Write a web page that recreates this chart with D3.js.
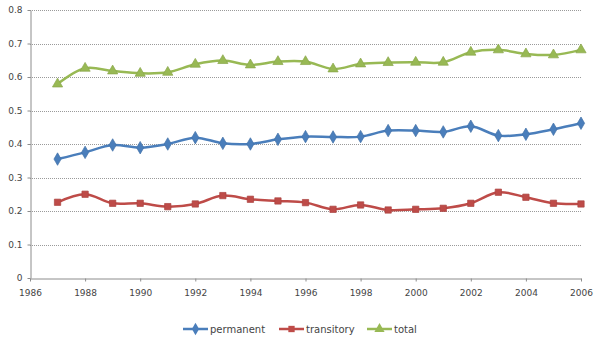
<!DOCTYPE html>
<html lang="en-US">
<head>
    <meta charset="UTF-8" />
    <title>permanent / transitory / total</title>
    <style>
        body { margin: 0; background: #fff; }
        text { font-family: "DejaVu Sans", sans-serif; fill: #444; }
        .grid line { stroke: #9a9a9a; stroke-width: 1; stroke-dasharray: 1 1; }
        .axis path, .axis line { stroke: #8c8c8c; }
    </style>
    <script src="https://d3js.org/d3.v7.min.js"></script>
</head>
<body>
    <div id="container"></div>
    <script>
        const years = d3.range(1987, 2007);
        const permanent = [0.355, 0.375, 0.397, 0.389, 0.400, 0.419, 0.402, 0.400, 0.414, 0.422,
            0.421, 0.422, 0.440, 0.440, 0.436, 0.453, 0.425, 0.429, 0.444, 0.462];
        const transitory = [0.226, 0.250, 0.223, 0.223, 0.213, 0.221, 0.246, 0.235, 0.230, 0.225,
            0.205, 0.218, 0.203, 0.205, 0.208, 0.223, 0.256, 0.241, 0.223, 0.221];
        const total = [0.579, 0.626, 0.618, 0.611, 0.614, 0.638, 0.649, 0.636, 0.646, 0.646,
            0.624, 0.639, 0.643, 0.644, 0.644, 0.674, 0.681, 0.669, 0.666, 0.681];
        const xTicks = d3.range(1986, 2007, 2);
        const yTicks = d3.range(0, 0.81, 0.1);

        const series = [
            { name: "permanent", values: permanent, color: "#4a7ebb", shape: d3.symbolDiamond, size: 45 },
            { name: "transitory", values: transitory, color: "#be4b48", shape: d3.symbolSquare, size: 40 },
            { name: "total", values: total, color: "#98b954", shape: d3.symbolTriangle, size: 45 }
        ];

        const width = 600, height = 343;
        const margin = { left: 30, right: 19, top: 10, bottom: 65 };

        const svg = d3.select("#container").append("svg")
            .attr("width", width)
            .attr("height", height);

        const x = d3.scaleLinear().domain([1986, 2006]).range([margin.left, width - margin.right]);
        const y = d3.scaleLinear().domain([0, 0.8]).range([height - margin.bottom, margin.top]);

        // horizontal gridlines
        svg.append("g")
            .attr("class", "grid")
            .selectAll("line")
            .data(yTicks.slice(1))
            .join("line")
            .attr("x1", margin.left)
            .attr("x2", width - margin.right)
            .attr("y1", d => Math.round(y(d)) + 0.5)
            .attr("y2", d => Math.round(y(d)) + 0.5);

        const yAxis = svg.append("g")
            .attr("class", "axis")
            .attr("transform", `translate(${margin.left + 0.5},0)`)
            .call(d3.axisLeft(y).tickValues(yTicks).tickSize(3).tickSizeOuter(0)
                .tickFormat(d => d === 0 ? "0" : d3.format(".1f")(d)));
        yAxis.selectAll("text").attr("font-size", 9).attr("dx", "-2px");

        const xAxis = svg.append("g")
            .attr("class", "axis")
            .attr("transform", `translate(0,${Math.round(y(0)) + 0.5})`)
            .call(d3.axisBottom(x).tickValues(xTicks).tickSize(3).tickSizeOuter(0).tickFormat(d3.format("d")));
        xAxis.selectAll("text").attr("font-size", 9).attr("dy", "1.3em");

        const line = d3.line()
            .x((d, i) => x(years[i]))
            .y(d => y(d))
            .curve(d3.curveCatmullRom.alpha(0.5));

        series.forEach(s => {
            svg.append("path")
                .datum(s.values)
                .attr("fill", "none")
                .attr("stroke", s.color)
                .attr("stroke-width", 2.5)
                .attr("d", line);

            svg.append("g")
                .selectAll("path")
                .data(s.values)
                .join("path")
                .attr("transform", (d, i) => `translate(${x(years[i])},${y(d)})`)
                .attr("d", d3.symbol().type(s.shape).size(s.size))
                .attr("fill", s.color)
                .attr("stroke", d3.color(s.color).darker(0.3))
                .attr("stroke-width", 0.7);
        });

        // legend
        const legendX = [183, 279, 367];
        const legendY = 329;
        const legend = svg.append("g")
            .selectAll("g")
            .data(series)
            .join("g")
            .attr("transform", (d, i) => `translate(${legendX[i]},${legendY})`);

        legend.append("line")
            .attr("x1", 0).attr("x2", 25)
            .attr("stroke", d => d.color)
            .attr("stroke-width", 2.5);
        legend.append("path")
            .attr("transform", "translate(12.5,0)")
            .attr("d", d => d3.symbol().type(d.shape).size(d.size)())
            .attr("fill", d => d.color);
        legend.append("text")
            .attr("x", 27)
            .attr("dy", "0.35em")
            .attr("font-size", 10)
            .text(d => d.name);
    </script>
</body>
</html>
